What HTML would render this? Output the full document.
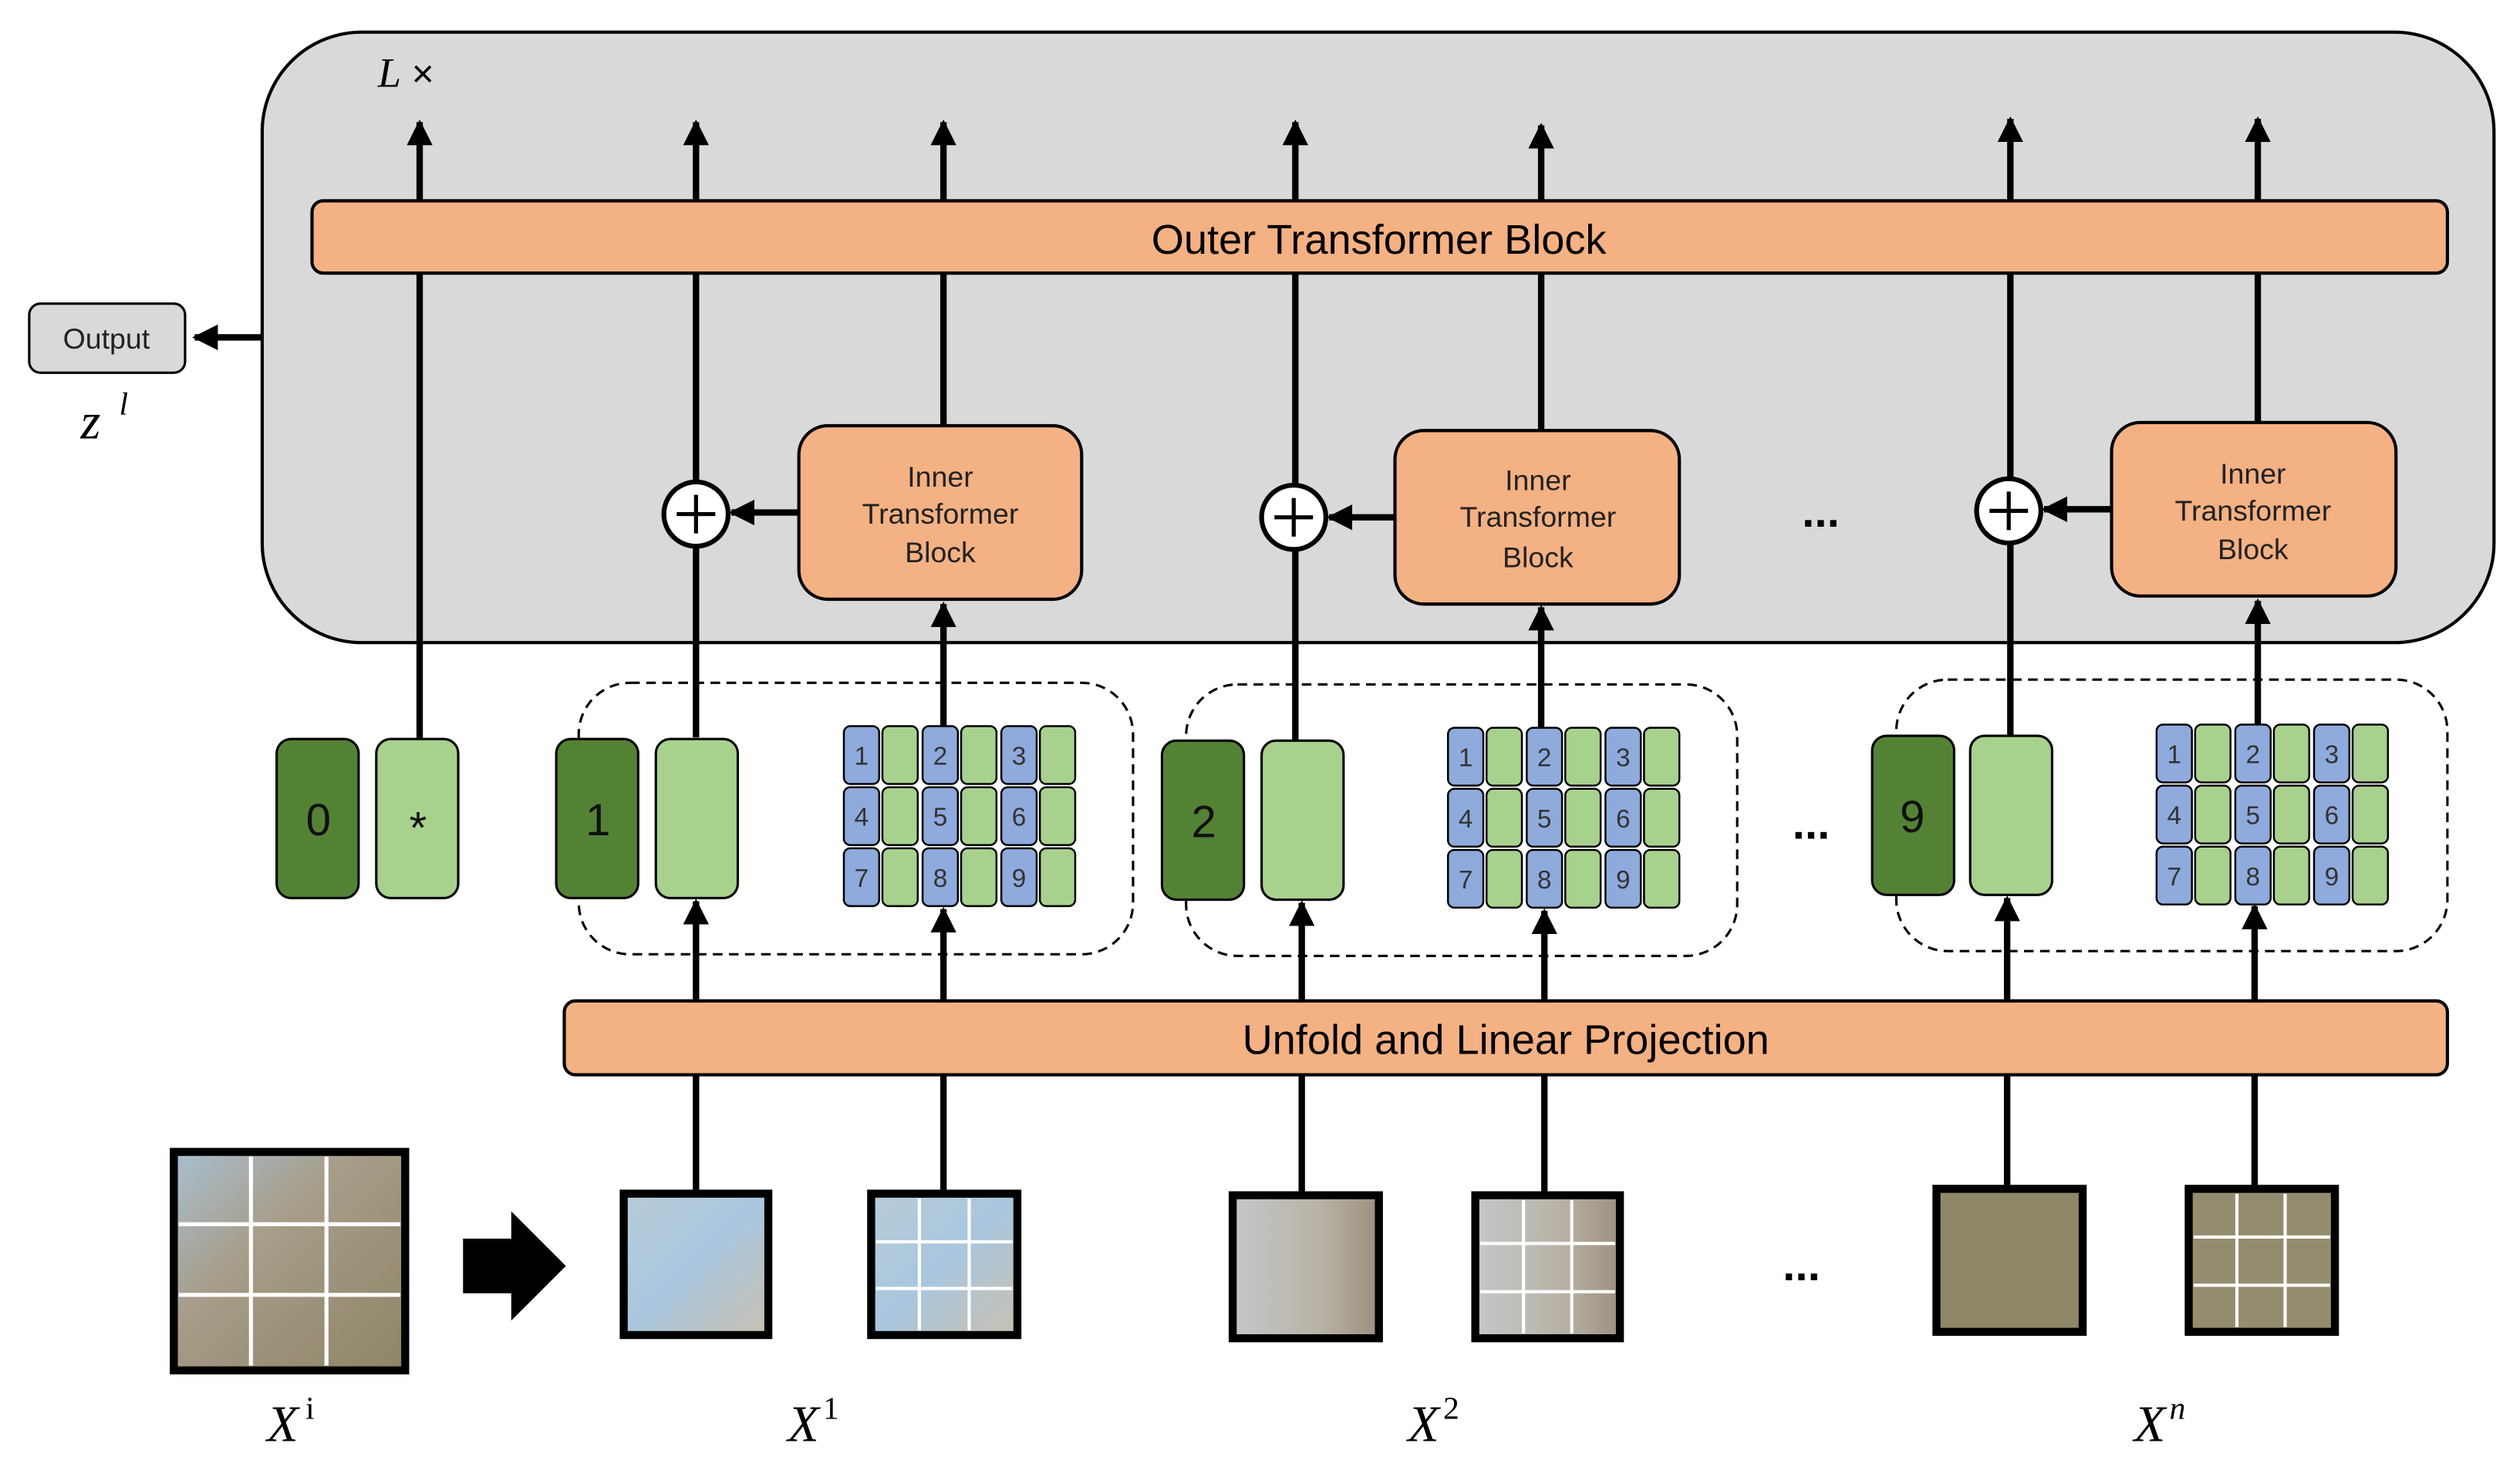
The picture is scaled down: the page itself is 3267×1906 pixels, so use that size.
<!DOCTYPE html>
<html><head><meta charset="utf-8"><style>html,body{margin:0;padding:0;background:#fff}svg{display:block}</style></head><body>
<svg width="3267" height="1906" viewBox="0 0 1568 915" xmlns="http://www.w3.org/2000/svg" font-family="Liberation Sans, sans-serif">
<defs>
<marker id="ah" viewBox="0 0 10 10" refX="9" refY="5" markerWidth="4" markerHeight="5" orient="auto" markerUnits="strokeWidth"><path d="M0,0 L10,5 L0,10 z" fill="#000"/></marker>
<linearGradient id="gb" x1="0" y1="0" x2="1" y2="1"><stop offset="0" stop-color="#b8ccd8"/><stop offset="0.5" stop-color="#a9c6de"/><stop offset="1" stop-color="#c8c0b0"/></linearGradient>
<linearGradient id="gs" x1="0" y1="0" x2="1" y2="0"><stop offset="0" stop-color="#c4c8c8"/><stop offset="0.6" stop-color="#b8b2a6"/><stop offset="1" stop-color="#9c907e"/></linearGradient>
<linearGradient id="gbig" x1="0" y1="0" x2="1" y2="1"><stop offset="0" stop-color="#a8bfcf"/><stop offset="0.4" stop-color="#a79c88"/><stop offset="1" stop-color="#8e8466"/></linearGradient>
</defs>
<rect x="163" y="20" width="1389" height="380" rx="62" fill="#d9d9d9" stroke="#000" stroke-width="2"/>
<text x="235" y="54" font-family="Liberation Serif, serif" font-style="italic" font-size="26">L</text>
<text x="256" y="54" font-size="24">×</text>
<g stroke="#000" stroke-width="4" fill="none" marker-end="url(#ah)">
<line x1="261" y1="460" x2="261" y2="76"/>
<line x1="433" y1="459" x2="433" y2="76"/>
<line x1="587" y1="265" x2="587" y2="76"/>
<line x1="806" y1="461" x2="806" y2="76"/>
<line x1="959" y1="268" x2="959" y2="78"/>
<line x1="1251" y1="458" x2="1251" y2="74"/>
<line x1="1405" y1="263" x2="1405" y2="74"/>
<line x1="163" y1="210" x2="121" y2="210"/>
<line x1="497" y1="319" x2="455" y2="319"/>
<line x1="868" y1="322" x2="827" y2="322"/>
<line x1="1314" y1="317" x2="1272" y2="317"/>
<line x1="587" y1="452" x2="587" y2="376"/>
<line x1="959" y1="453" x2="959" y2="378"/>
<line x1="1405" y1="451" x2="1405" y2="374"/>
<line x1="433" y1="623" x2="433" y2="561"/>
<line x1="587" y1="623" x2="587" y2="566"/>
<line x1="810" y1="623" x2="810" y2="562"/>
<line x1="961" y1="623" x2="961" y2="567"/>
<line x1="1249" y1="623" x2="1249" y2="559"/>
<line x1="1403" y1="623" x2="1403" y2="564"/>
</g>
<g stroke="#000" stroke-width="4"><line x1="433" y1="669" x2="433" y2="743"/><line x1="587" y1="669" x2="587" y2="743"/><line x1="810" y1="669" x2="810" y2="744"/><line x1="961" y1="669" x2="961" y2="744"/><line x1="1249" y1="669" x2="1249" y2="740"/><line x1="1403" y1="669" x2="1403" y2="740"/></g>
<rect x="194" y="125" width="1329" height="45" rx="7" fill="#f4b183" stroke="#000" stroke-width="2"/>
<text x="858" y="158" font-size="26" text-anchor="middle">Outer Transformer Block</text>
<rect x="18" y="189" width="97" height="43" rx="7" fill="#d9d9d9" stroke="#000" stroke-width="1.5"/>
<text x="66" y="217" font-size="18" text-anchor="middle" fill="#222">Output</text>
<text x="50" y="273" font-family="Liberation Serif, serif" font-style="italic" font-size="32">z</text>
<text x="74" y="258" font-family="Liberation Serif, serif" font-style="italic" font-size="20">l</text>
<g fill="#f4b183" stroke="#000" stroke-width="2">
<rect x="497" y="265" width="176" height="108" rx="18"/>
<rect x="868" y="268" width="177" height="108" rx="18"/>
<rect x="1314" y="263" width="177" height="108" rx="18"/>
</g>
<g font-size="18" text-anchor="middle" fill="#222">
<text x="585" y="303">Inner</text><text x="585" y="326">Transformer</text><text x="585" y="350">Block</text>
<text x="957" y="305">Inner</text><text x="957" y="328">Transformer</text><text x="957" y="353">Block</text>
<text x="1402" y="301">Inner</text><text x="1402" y="324">Transformer</text><text x="1402" y="348">Block</text>
</g>
<g fill="#fff" stroke="#000" stroke-width="3">
<circle cx="433" cy="320" r="20"/><circle cx="805" cy="322" r="20"/><circle cx="1250" cy="318" r="20"/>
</g>
<g stroke="#000" stroke-width="2.5">
<line x1="421" y1="320" x2="445" y2="320"/><line x1="433" y1="308" x2="433" y2="332"/>
<line x1="793" y1="322" x2="817" y2="322"/><line x1="805" y1="310" x2="805" y2="334"/>
<line x1="1238" y1="318" x2="1262" y2="318"/><line x1="1250" y1="306" x2="1250" y2="330"/>
</g>
<g font-size="28" font-weight="bold" text-anchor="middle"><text x="1133" y="328">...</text><text x="1127" y="522">...</text><text x="1121" y="797">...</text></g>
<g fill="none" stroke="#000" stroke-width="1.5" stroke-dasharray="6,4">
<rect x="360" y="425" width="345" height="169" rx="32"/>
<rect x="738" y="426" width="343" height="169" rx="32"/>
<rect x="1180" y="423" width="343" height="169" rx="32"/>
</g>
<g stroke="#000" stroke-width="1.5">
<rect x="172" y="460" width="51" height="99" rx="9" fill="#548235"/>
<rect x="234" y="460" width="51" height="99" rx="9" fill="#a9d18e"/>
<rect x="346" y="460" width="51" height="99" rx="9" fill="#548235"/>
<rect x="408" y="460" width="51" height="99" rx="9" fill="#a9d18e"/>
<rect x="723" y="461" width="51" height="99" rx="9" fill="#548235"/>
<rect x="785" y="461" width="51" height="99" rx="9" fill="#a9d18e"/>
<rect x="1165" y="458" width="51" height="99" rx="9" fill="#548235"/>
<rect x="1226" y="458" width="51" height="99" rx="9" fill="#a9d18e"/>
</g>
<g font-size="28" text-anchor="middle" fill="#111">
<text x="198" y="520">0</text><text x="260" y="525">*</text><text x="372" y="520">1</text><text x="749" y="521">2</text><text x="1190" y="518">9</text>
</g>
<g stroke="#000" stroke-width="1.2">
<g transform="translate(525,452)">
<rect x="0" y="0" width="22" height="36" rx="4" fill="#8faadc"/><rect x="24" y="0" width="22" height="36" rx="4" fill="#a9d18e"/>
<rect x="49" y="0" width="22" height="36" rx="4" fill="#8faadc"/><rect x="73" y="0" width="22" height="36" rx="4" fill="#a9d18e"/>
<rect x="98" y="0" width="22" height="36" rx="4" fill="#8faadc"/><rect x="122" y="0" width="22" height="36" rx="4" fill="#a9d18e"/>
<rect x="0" y="38" width="22" height="36" rx="4" fill="#8faadc"/><rect x="24" y="38" width="22" height="36" rx="4" fill="#a9d18e"/>
<rect x="49" y="38" width="22" height="36" rx="4" fill="#8faadc"/><rect x="73" y="38" width="22" height="36" rx="4" fill="#a9d18e"/>
<rect x="98" y="38" width="22" height="36" rx="4" fill="#8faadc"/><rect x="122" y="38" width="22" height="36" rx="4" fill="#a9d18e"/>
<rect x="0" y="76" width="22" height="36" rx="4" fill="#8faadc"/><rect x="24" y="76" width="22" height="36" rx="4" fill="#a9d18e"/>
<rect x="49" y="76" width="22" height="36" rx="4" fill="#8faadc"/><rect x="73" y="76" width="22" height="36" rx="4" fill="#a9d18e"/>
<rect x="98" y="76" width="22" height="36" rx="4" fill="#8faadc"/><rect x="122" y="76" width="22" height="36" rx="4" fill="#a9d18e"/>
</g>
<g transform="translate(901,453)">
<rect x="0" y="0" width="22" height="36" rx="4" fill="#8faadc"/><rect x="24" y="0" width="22" height="36" rx="4" fill="#a9d18e"/>
<rect x="49" y="0" width="22" height="36" rx="4" fill="#8faadc"/><rect x="73" y="0" width="22" height="36" rx="4" fill="#a9d18e"/>
<rect x="98" y="0" width="22" height="36" rx="4" fill="#8faadc"/><rect x="122" y="0" width="22" height="36" rx="4" fill="#a9d18e"/>
<rect x="0" y="38" width="22" height="36" rx="4" fill="#8faadc"/><rect x="24" y="38" width="22" height="36" rx="4" fill="#a9d18e"/>
<rect x="49" y="38" width="22" height="36" rx="4" fill="#8faadc"/><rect x="73" y="38" width="22" height="36" rx="4" fill="#a9d18e"/>
<rect x="98" y="38" width="22" height="36" rx="4" fill="#8faadc"/><rect x="122" y="38" width="22" height="36" rx="4" fill="#a9d18e"/>
<rect x="0" y="76" width="22" height="36" rx="4" fill="#8faadc"/><rect x="24" y="76" width="22" height="36" rx="4" fill="#a9d18e"/>
<rect x="49" y="76" width="22" height="36" rx="4" fill="#8faadc"/><rect x="73" y="76" width="22" height="36" rx="4" fill="#a9d18e"/>
<rect x="98" y="76" width="22" height="36" rx="4" fill="#8faadc"/><rect x="122" y="76" width="22" height="36" rx="4" fill="#a9d18e"/>
</g>
<g transform="translate(1342,451)">
<rect x="0" y="0" width="22" height="36" rx="4" fill="#8faadc"/><rect x="24" y="0" width="22" height="36" rx="4" fill="#a9d18e"/>
<rect x="49" y="0" width="22" height="36" rx="4" fill="#8faadc"/><rect x="73" y="0" width="22" height="36" rx="4" fill="#a9d18e"/>
<rect x="98" y="0" width="22" height="36" rx="4" fill="#8faadc"/><rect x="122" y="0" width="22" height="36" rx="4" fill="#a9d18e"/>
<rect x="0" y="38" width="22" height="36" rx="4" fill="#8faadc"/><rect x="24" y="38" width="22" height="36" rx="4" fill="#a9d18e"/>
<rect x="49" y="38" width="22" height="36" rx="4" fill="#8faadc"/><rect x="73" y="38" width="22" height="36" rx="4" fill="#a9d18e"/>
<rect x="98" y="38" width="22" height="36" rx="4" fill="#8faadc"/><rect x="122" y="38" width="22" height="36" rx="4" fill="#a9d18e"/>
<rect x="0" y="76" width="22" height="36" rx="4" fill="#8faadc"/><rect x="24" y="76" width="22" height="36" rx="4" fill="#a9d18e"/>
<rect x="49" y="76" width="22" height="36" rx="4" fill="#8faadc"/><rect x="73" y="76" width="22" height="36" rx="4" fill="#a9d18e"/>
<rect x="98" y="76" width="22" height="36" rx="4" fill="#8faadc"/><rect x="122" y="76" width="22" height="36" rx="4" fill="#a9d18e"/>
</g>
</g>
<g font-size="16" text-anchor="middle" fill="#333">
<g transform="translate(525,452)"><text x="11" y="24">1</text><text x="60" y="24">2</text><text x="109" y="24">3</text><text x="11" y="62">4</text><text x="60" y="62">5</text><text x="109" y="62">6</text><text x="11" y="100">7</text><text x="60" y="100">8</text><text x="109" y="100">9</text></g>
<g transform="translate(901,453)"><text x="11" y="24">1</text><text x="60" y="24">2</text><text x="109" y="24">3</text><text x="11" y="62">4</text><text x="60" y="62">5</text><text x="109" y="62">6</text><text x="11" y="100">7</text><text x="60" y="100">8</text><text x="109" y="100">9</text></g>
<g transform="translate(1342,451)"><text x="11" y="24">1</text><text x="60" y="24">2</text><text x="109" y="24">3</text><text x="11" y="62">4</text><text x="60" y="62">5</text><text x="109" y="62">6</text><text x="11" y="100">7</text><text x="60" y="100">8</text><text x="109" y="100">9</text></g>
</g>
<rect x="351" y="623" width="1172" height="46" rx="7" fill="#f4b183" stroke="#000" stroke-width="2"/>
<text x="937" y="656" font-size="26" text-anchor="middle">Unfold and Linear Projection</text>
<rect x="108" y="717" width="144" height="136" fill="url(#gbig)" stroke="#000" stroke-width="5"/>
<g stroke="#fff" stroke-width="2.5"><line x1="111" y1="762" x2="249" y2="762"/><line x1="111" y1="806" x2="249" y2="806"/><line x1="156" y1="720" x2="156" y2="850"/><line x1="203" y1="720" x2="203" y2="850"/></g>
<path d="M288,771 L318,771 L318,754 L352,788 L318,822 L318,805 L288,805 z" fill="#000"/>
<rect x="388" y="743" width="90" height="88" fill="url(#gb)" stroke="#000" stroke-width="5"/>
<rect x="542" y="743" width="91" height="88" fill="url(#gb)" stroke="#000" stroke-width="5"/>
<rect x="767" y="744" width="91" height="89" fill="url(#gs)" stroke="#000" stroke-width="5"/>
<rect x="918" y="744" width="90" height="89" fill="url(#gs)" stroke="#000" stroke-width="5"/>
<rect x="1205" y="740" width="91" height="89" fill="#8f8868" stroke="#000" stroke-width="5"/>
<rect x="1362" y="740" width="91" height="89" fill="#948c6e" stroke="#000" stroke-width="5"/>
<g stroke="#fff" stroke-width="2">
<line x1="545" y1="773" x2="630" y2="773"/><line x1="545" y1="802" x2="630" y2="802"/><line x1="572" y1="746" x2="572" y2="828"/><line x1="603" y1="746" x2="603" y2="828"/>
<line x1="921" y1="774" x2="1005" y2="774"/><line x1="921" y1="804" x2="1005" y2="804"/><line x1="948" y1="747" x2="948" y2="830"/><line x1="978" y1="747" x2="978" y2="830"/>
<line x1="1365" y1="770" x2="1450" y2="770"/><line x1="1365" y1="800" x2="1450" y2="800"/><line x1="1392" y1="743" x2="1392" y2="826"/><line x1="1422" y1="743" x2="1422" y2="826"/>
</g>
<g font-family="Liberation Serif, serif" font-style="italic" font-size="32">
<text x="166" y="897">X</text><text x="490" y="897">X</text><text x="876" y="897">X</text><text x="1328" y="897">X</text>
</g>
<g font-family="Liberation Serif, serif" font-size="20">
<text x="190" y="883">i</text><text x="512" y="883">1</text><text x="898" y="883">2</text><text x="1350" y="883" font-style="italic">n</text>
</g>
</svg>
</body></html>
